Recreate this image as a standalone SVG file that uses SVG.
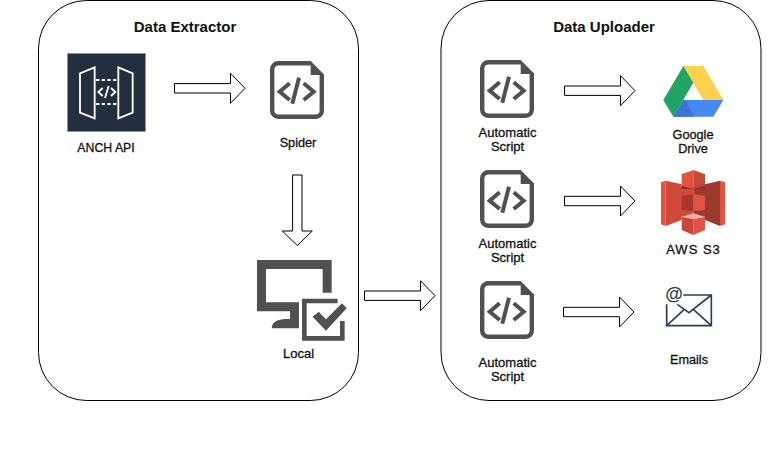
<svg xmlns="http://www.w3.org/2000/svg" xmlns:xlink="http://www.w3.org/1999/xlink" width="771" height="471" viewBox="0 0 771 471">
<style>
text{font-family:"Liberation Sans",Arial,sans-serif;fill:#111;text-anchor:middle}
.t{font-size:15px;font-weight:bold}
.l{font-size:12.7px;stroke:#111;stroke-width:.3px}
.w{font-size:13px}
.p{fill:#fff;stroke:#000;stroke-width:1}
.a{fill:#fff;stroke:#000;stroke-width:1}
.g{fill:#505050}
.c{fill:none;stroke:#505050;stroke-width:4}
</style>
<defs>
<g id="script">
<path d="M41 2.2H8.2a6 6 0 0 0-6 6V49.8a6 6 0 0 0 6 6H45.8a6 6 0 0 0 6-6V13" fill="none" stroke="#505050" stroke-width="4.4"/>
<path class="g" d="M40.7 0 54 13.5V14H40.7Z"/>
<path class="c" d="M19.7 22.3 9.7 30.7 19.7 39M33.7 22.3 43.7 30.7 33.7 39M29 16.7 22.3 42.7"/>
</g>
<path id="arrow" class="a" d="M0-4.7H56V-15L70.5 0 56 15V4.7H0Z"/>
</defs>
<g id="panel-extractor"><rect class="p" x="38.5" y="0.5" width="320" height="400" rx="48" ry="48"/><text class="t" x="185" y="32">Data Extractor</text></g>
<g id="panel-uploader"><rect class="p" x="441" y="0.5" width="320" height="400" rx="48" ry="48"/><text class="t" x="604" y="32">Data Uploader</text></g>
<g id="connectors">
<use xlink:href="#arrow" href="#arrow" x="174.5" y="88.3"/>
<use xlink:href="#arrow" href="#arrow" transform="translate(297.3 175) rotate(90)"/>
<use xlink:href="#arrow" href="#arrow" x="364.5" y="295.7"/>
<use xlink:href="#arrow" href="#arrow" x="564.5" y="90.7"/>
<use xlink:href="#arrow" href="#arrow" x="564.5" y="201"/>
<use xlink:href="#arrow" href="#arrow" x="563.5" y="312"/>
</g>
<g id="anch-api">
<rect x="67.5" y="53.5" width="78" height="78" fill="#232f3e" stroke="#8b949e" stroke-width=".6"/>
<g transform="translate(50 40) scale(.3333)" fill="none" stroke="#fff">
<path stroke-width="5.5" d="M90 100 134 82V235L90 218ZM205 82 248 100V218L205 235Z"/>
<path stroke-width="5.5" stroke-dasharray="10 7" d="M138 120H203M138 192H203"/>
<path stroke-width="5.5" d="M158 144 145 156 158 168M183 144 196 156 183 168M176 138 165 174"/>
</g>
<text class="l" style="font-size:12.3px" x="106" y="152">ANCH API</text>
</g>
<g id="spider"><use xlink:href="#script" href="#script" x="270" y="61"/><text class="l" x="298" y="147">Spider</text></g>
<g id="local">
<g transform="translate(240 170) scale(.3333)">
<path class="g" d="M51 270H275V368H248V297H78V397H177V475H95C97 450 120 447 150 447V424H51Z"/>
<path class="g" d="M186 386H293V400H200V498H300V453H314V512H186ZM218 440 236 425 258 448 306 400 320 415 258 482Z"/>
</g>
<text class="l w" x="298.500" y="358">Local</text>
</g>
<g id="script-1"><use xlink:href="#script" href="#script" x="480" y="60"/><text class="l w" x="507.500" y="137">Automatic</text><text class="l w" x="507.500" y="151">Script</text></g>
<g id="script-2"><use xlink:href="#script" href="#script" x="480" y="170"/><text class="l w" x="507.500" y="248">Automatic</text><text class="l w" x="507.500" y="262">Script</text></g>
<g id="script-3"><use xlink:href="#script" href="#script" x="480" y="281"/><text class="l w" x="507.500" y="367">Automatic</text><text class="l w" x="507.500" y="381">Script</text></g>
<g id="google-drive">
<g transform="translate(640 50) scale(.3333)">
<path fill="#ffd04b" d="M130 48H190L250 150H190Z"/>
<path fill="#4688f4" d="M130 150H250L220 200H100Z"/>
<path fill="#3f72d6" d="M100 200 130 150H135L162 200Z"/>
<path fill="#1fa463" d="M130 48 160 98 100 200 70 150Z"/>
</g>
<text class="l" x="693" y="139">Google</text><text class="l" x="693" y="153">Drive</text>
</g>
<g id="aws-s3">
<g transform="translate(655 165) scale(.3333)">
<path fill="#e05243" d="M18 52 32 47V183L18 178ZM195 47 210 52V178L195 183Z"/>
<path fill="#d04a3b" d="M32 47 80 58V62H115V155H80V165L32 183Z"/>
<path fill="#9a3a2c" d="M150 58 195 47V183L150 165V155H115V62H150Z"/>
<path fill="#e05243" d="M80 28 115 15V72L80 62Z"/>
<path fill="#c4483a" d="M115 15 150 28V62L115 72Z"/>
<path fill="#8c3123" d="M80 62 115 72 150 62V72H80Z"/>
<path fill="#a5382b" d="M80 92 115 88V138L80 135Z"/>
<path fill="#e05243" d="M115 88 150 92V135L115 138Z"/>
<path fill="#c9463a" d="M80 155 115 162V210L80 195Z"/>
<path fill="#e05243" d="M115 162 150 155V195L115 210Z"/>
<path fill="#f2b0a9" d="M80 155 115 145 150 155 115 162Z"/>
</g>
<text class="l" style="font-size:13px;letter-spacing:1px" x="693.500" y="254">AWS S3</text>
</g>
<g id="emails">
<g transform="translate(640 275) scale(.3333)" fill="none" stroke="#2d3f50" stroke-width="5">
<path d="M130 60H214V152H80V88M112 88 147 113 214 60M80 152 133 103M214 152 160 103"/>
</g>
<text x="674" y="300" style="font-size:18px;fill:#2d3f50;font-weight:bold">@</text>
<text class="l" x="689" y="364">Emails</text>
</g>
</svg>
